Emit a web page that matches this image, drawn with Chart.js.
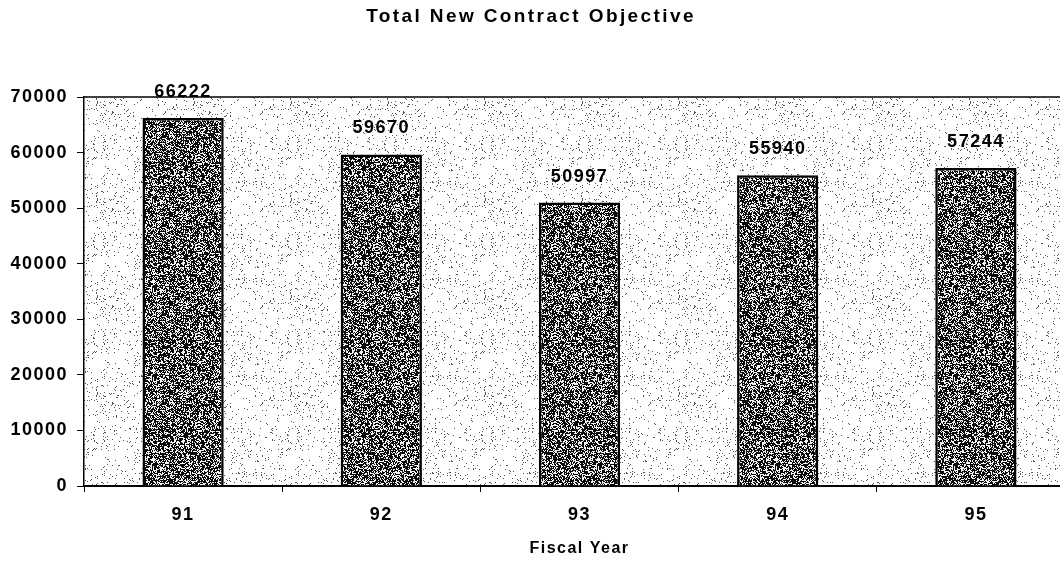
<!DOCTYPE html>
<html>
<head>
<meta charset="utf-8">
<script src="https://cdn.jsdelivr.net/npm/chart.js@4.4.0/dist/chart.umd.min.js"></script>
<style>
  html, body { margin: 0; padding: 0; background: #ffffff; overflow: hidden; }
  #wrap { width: 1075px; height: 561px; }
</style>
</head>
<body>
<div id="wrap"><canvas id="chart"></canvas></div>
<script>
// Data
const fiscalYears = ['91', '92', '93', '94', '95'];
const contractObjective = [66222, 59670, 50997, 55940, 57244];
const yTicks = [0, 10000, 20000, 30000, 40000, 50000, 60000, 70000];
const chartTitle = 'Total New Contract Objective';

const FONT = '"Liberation Sans", Arial, sans-serif';
const SPACING = '1.5px';

// Stippled textures (styling only)
function makeStipple(size, density, dark, light) {
    const c = document.createElement('canvas');
    c.width = size; c.height = size;
    const g = c.getContext('2d');
    g.fillStyle = light;
    g.fillRect(0, 0, size, size);
    g.fillStyle = dark;
    let seed = 12345;
    for (let y = 0; y < size; y++) {
        for (let x = 0; x < size; x++) {
            seed = (seed * 1103515245 + 12345) & 0x7fffffff;
            if ((seed / 0x7fffffff) < density) g.fillRect(x, y, 1, 1);
        }
    }
    return g.createPattern(c, 'repeat');
}

const ctx = document.getElementById('chart').getContext('2d');
const plotPattern = makeStipple(97, 0.045, '#555555', '#ffffff');
const barPattern = makeStipple(89, 0.62, '#0a0a0a', '#f4f4f4');

// Wide letter spacing like the scanned original
const spacedText = {
    id: 'spacedText',
    beforeUpdate(chart) { chart.ctx.letterSpacing = SPACING; },
    beforeLayout(chart) { chart.ctx.letterSpacing = SPACING; },
    beforeDraw(chart) { chart.ctx.letterSpacing = SPACING; }
};

// Plot area background + top border
const plotBackground = {
    id: 'plotBackground',
    beforeDraw(chart) {
        const { ctx, chartArea: a } = chart;
        ctx.save();
        ctx.fillStyle = plotPattern;
        ctx.fillRect(a.left, a.top, a.right - a.left, a.bottom - a.top);
        ctx.strokeStyle = '#000000';
        ctx.lineWidth = 1.5;
        ctx.beginPath();
        ctx.moveTo(a.left, a.top);
        ctx.lineTo(a.right, a.top);
        ctx.stroke();
        ctx.restore();
    }
};

// Value labels above bars, and the page title
const valueLabels = {
    id: 'valueLabels',
    afterDatasetsDraw(chart) {
        const { ctx } = chart;
        const meta = chart.getDatasetMeta(0);
        ctx.save();
        ctx.font = 'bold 18px ' + FONT;
        ctx.fillStyle = '#000000';
        ctx.textAlign = 'center';
        ctx.textBaseline = 'middle';
        meta.data.forEach((bar, i) => {
            ctx.fillText(String(contractObjective[i]), bar.x, bar.y - 26);
        });
        ctx.font = 'bold 19px ' + FONT;
        ctx.letterSpacing = '2.4px';
        ctx.fillText(chartTitle, 531, 17);
        ctx.restore();
    }
};

new Chart(ctx, {
    type: 'bar',
    data: {
        labels: fiscalYears,
        datasets: [{
            data: contractObjective,
            backgroundColor: barPattern,
            borderColor: '#000000',
            borderWidth: 2.5,
            borderSkipped: 'bottom',
            barPercentage: 0.82,
            categoryPercentage: 0.5
        }]
    },
    options: {
        responsive: true,
        maintainAspectRatio: false,
        animation: false,
        layout: { padding: { left: 0, right: 0, top: 97, bottom: 0 } },
        plugins: {
            legend: { display: false },
            tooltip: { enabled: false },
            title: { display: false }
        },
        scales: {
            x: {
                grid: {
                    offset: true,
                    drawOnChartArea: false,
                    drawTicks: true,
                    tickLength: 6,
                    color: '#000000'
                },
                border: { color: '#000000', width: 2 },
                ticks: {
                    color: '#000000',
                    padding: 12,
                    font: { family: FONT, size: 18, weight: 'bold' }
                },
                title: {
                    display: true,
                    text: 'Fiscal Year',
                    color: '#000000',
                    font: { family: FONT, size: 16, weight: 'bold' },
                    padding: { top: 10, bottom: 3 }
                },
                afterFit(scale) { scale.height = 75; }
            },
            y: {
                min: 0,
                max: 70000,
                afterBuildTicks(scale) { scale.ticks = yTicks.map(v => ({ value: v })); },
                grid: {
                    drawOnChartArea: false,
                    tickLength: 7,
                    color: '#000000'
                },
                border: { color: '#000000', width: 1.5 },
                ticks: {
                    color: '#000000',
                    padding: 9,
                    font: { family: FONT, size: 18, weight: 'bold' },
                    callback: v => String(v)
                },
                afterFit(scale) { scale.width = 84; }
            }
        }
    },
    plugins: [spacedText, plotBackground, valueLabels]
});
</script>
</body>
</html>
